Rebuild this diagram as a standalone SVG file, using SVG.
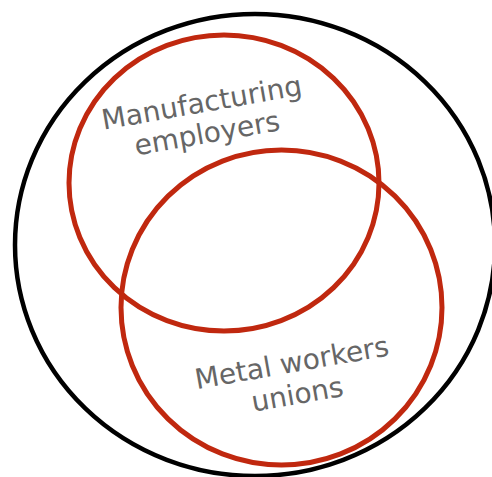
<svg xmlns="http://www.w3.org/2000/svg" width="492" height="477" viewBox="0 0 492 477">
<style>
.outer{fill:none;stroke:#000;stroke-width:4.5}
.set{fill:none;stroke:#c0280f;stroke-width:5}
.lbl{font-family:"DejaVu Sans",Verdana,sans-serif;font-size:28px;fill:#666;text-anchor:middle}
</style>
<rect width="492" height="477" fill="#fff"/>
<g id="universe"><ellipse class="outer" cx="255" cy="245" rx="240" ry="231"/></g>
<g id="manufacturing">
<ellipse class="set" cx="224" cy="183" rx="155" ry="148"/>
<g transform="translate(206,127) rotate(-10)"><text class="lbl" x="0" y="-15">Manufacturing</text><text class="lbl" x="0" y="16">employers</text></g>
</g>
<g id="metal">
<ellipse class="set" cx="281.5" cy="307.5" rx="160.5" ry="157.5"/>
<g transform="translate(296,387) rotate(-10)"><text class="lbl" x="0" y="-15">Metal workers</text><text class="lbl" x="0" y="17">unions</text></g>
</g>
<g id="connectors"/>
</svg>
